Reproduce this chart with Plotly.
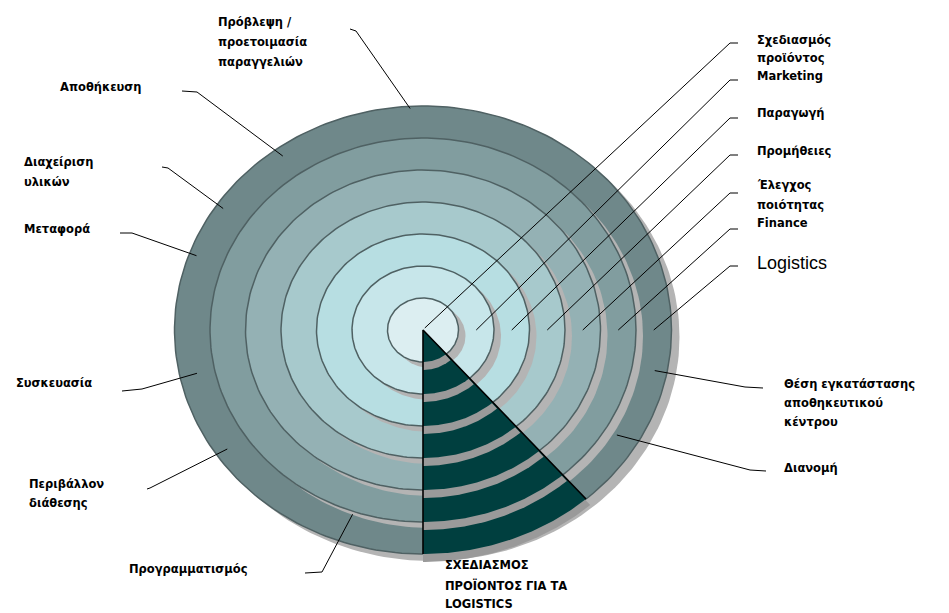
import numpy as np
import plotly.graph_objects as go

# ---------------- data ----------------
ring_labels = ["Σχεδιασμός\nπροϊόντος", "Marketing", "Παραγωγή", "Προμήθειες",
               "Έλεγχος\nποιότητας", "Finance", "Logistics"]
activity_labels = ["Πρόβλεψη /\nπροετοιμασία\nπαραγγελιών", "Αποθήκευση", "Διαχείριση\nυλικών",
                   "Μεταφορά", "Συσκευασία", "Περιβάλλον\nδιάθεσης", "Προγραμματισμός",
                   "Θέση εγκατάστασης\nαποθηκευτικού\nκέντρου", "Διανομή"]
activity_angles = [-93, -126, -146, -160, 168, 146, 109, 11, 31]   # degrees on outer ring
activity_depth = [0.99, 0.96, 0.97, 0.97, 0.93, 0.95, 0.87, 0.95, 0.91]
focus_label = "ΣΧΕΔΙΑΣΜΟΣ\nΠΡΟΪΟΝΤΟΣ ΓΙΑ ΤΑ\nLOGISTICS"
wedge_angles = [90, 49]

# ---------------- layout / style ----------------
W, H = 949, 613
CX, CY = 423, 330
RX, RY = 35.5, 32.0
ring_colors = ["#DCEEF1", "#C7E6EA", "#B7DEE2", "#A7C9CC", "#94B1B4", "#819D9F", "#6F888A"]
edge_color = "#4F6163"
shadow_color = "#B4B4B4"
wedge_color = "#003F3F"
font_family = "DejaVu Sans"
font_size = 11.5

ring_label_pos = [(755, [40, 58], 43), (755, [76], 80), (755, [113], 118), (755, [151], 155),
                  (755, [185, 205], 193), (755, [223], 229), (755, [263], 266)]
ring_leader_frac = [0.05, 1.5, 2.5, 3.5, 4.5, 5.5, 6.5]

# label position (x, line ys, anchor), leader start, elbow
activity_pos = [
    (216, [22, 42, 62], "left", (350, 29), (356, 31)),
    (58, [87], "left", (182, 91), (197, 92)),
    (22, [162, 182], "left", (162, 167), (168, 168)),
    (22, [229], "left", (120, 233), (132, 233)),
    (14, [383], "left", (122, 391), (142, 389)),
    (27, [484, 503], "left", (147, 489), (150, 488)),
    (127, [569], "left", (305, 573), (322, 572)),
    (782, [384, 403, 422], "left", (763, 388), (745, 387)),
    (782, [468], "left", (766, 471), (750, 470)),
]
focus_pos = (443, [565, 585, 604])

fig = go.Figure()


def ell(rx, ry, cx=CX, cy=CY, t0=0, t1=360, n=240):
    t = np.radians(np.linspace(t0, t1, n))
    return cx + rx * np.cos(t), cy + ry * np.sin(t)


nR = len(ring_labels)
# rings from outer to inner, each with its drop shadow
for k in range(nR, 0, -1):
    off = 8 if k == nR else 7
    sx, sy = ell(RX * k, RY * k, CX + off, CY + off - 1)
    fig.add_trace(go.Scatter(x=sx, y=sy, mode="lines", fill="toself", fillcolor=shadow_color,
                             line=dict(width=0, color=shadow_color), hoverinfo="skip"))
    x, y = ell(RX * k, RY * k)
    fig.add_trace(go.Scatter(x=x, y=y, mode="lines", fill="toself", fillcolor=ring_colors[k - 1],
                             line=dict(width=1.5, color=edge_color), hoverinfo="skip"))

# highlighted wedge
a0, a1 = wedge_angles
for k in range(nR, 0, -1):
    for dr, col in ((8, "#9A9A9A"), (0, wedge_color)):
        ax, ay = ell(RX * k + dr * 0.8, RY * k + dr, t0=a0, t1=a1, n=80)
        px = np.concatenate([[CX], ax, [CX]])
        py = np.concatenate([[CY], ay, [CY]])
        fig.add_trace(go.Scatter(x=px, y=py, mode="lines", fill="toself", fillcolor=col,
                                 line=dict(width=0, color=col), hoverinfo="skip"))
ex, ey = ell(RX * nR, RY * nR, t0=a0, t1=a1, n=2)
fig.add_trace(go.Scatter(x=[ex[0], CX, ex[1]], y=[ey[0], CY, ey[1]], mode="lines",
                         line=dict(width=1.6, color="black"), hoverinfo="skip"))

annotations = []


def add_lines(text, x, ys, size=font_size, anchor="left", bold=True, family=font_family):
    for line, yy in zip(text.split("\n"), ys):
        annotations.append(dict(x=x, y=yy, xref="x", yref="y", text=("<b>%s</b>" % line) if bold else line,
                                showarrow=False, xanchor=anchor, yanchor="middle",
                                font=dict(family=family, size=size, color="black")))


# ring leaders (right side)
for k, (lab, pos, frac) in enumerate(zip(ring_labels, ring_label_pos, ring_leader_frac), start=1):
    tx, tys, ely = pos
    end_x = CX + RX * frac
    end_y = CY - (2 if k == 1 else 0)
    fig.add_trace(go.Scatter(x=[end_x, tx - 25, tx - 17], y=[end_y, ely, ely], mode="lines",
                             line=dict(width=1, color="black"), hoverinfo="skip"))
    if lab == "Logistics":
        add_lines(lab, tx, tys, size=18, bold=False, family="Liberation Sans")
    else:
        add_lines(lab, tx, tys)

# activity leaders (outer ring)
for lab, ang, dep, pos in zip(activity_labels, activity_angles, activity_depth, activity_pos):
    tx, tys, anc, st, elb = pos
    t = np.radians(ang)
    end_x = CX + RX * nR * dep * np.cos(t)
    end_y = CY + RY * nR * dep * np.sin(t)
    fig.add_trace(go.Scatter(x=[st[0], elb[0], end_x], y=[st[1], elb[1], end_y], mode="lines",
                             line=dict(width=1, color="black"), hoverinfo="skip"))
    add_lines(lab, tx, tys, anchor=anc)

add_lines(focus_label, focus_pos[0], focus_pos[1])

fig.update_layout(
    width=W, height=H, autosize=False,
    margin=dict(l=0, r=0, t=0, b=0),
    paper_bgcolor="white", plot_bgcolor="white",
    showlegend=False,
    xaxis=dict(range=[0, W], visible=False, fixedrange=True),
    yaxis=dict(range=[H, 0], visible=False, fixedrange=True),
    annotations=annotations,
)
fig.write_html("out.html")
